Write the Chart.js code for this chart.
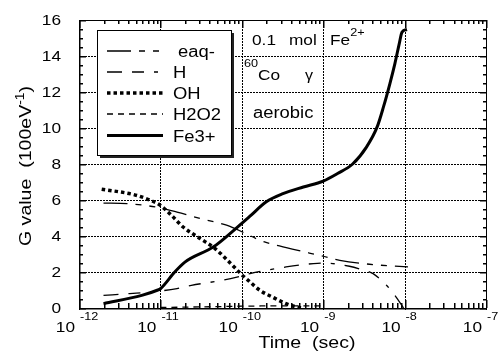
<!DOCTYPE html>
<html>
<head>
<meta charset="utf-8">
<script src="https://cdn.jsdelivr.net/npm/chart.js@4"></script>
<style>
  html, body { margin: 0; padding: 0; background: #fff; }
  canvas { display: block; }
</style>
</head>
<body>
<canvas id="gChart" width="502" height="356"></canvas>
<script>
// series names (legend order)
const seriesNames = ['eaq-', 'H', 'OH', 'H2O2', 'Fe3+'];

// time (sec) / G value (100eV^-1)
const tEaq = [2e-12, 3.9e-12, 9e-12, 1.6e-11, 3.1e-11, 6.5e-11, 1.9e-10, 2.9e-10, 4.9e-10, 9.5e-10, 1.6e-9, 3.7e-9, 1.1e-8];
const gEaq = [5.83, 5.8, 5.6, 5.33, 4.97, 4.6, 3.67, 3.45, 3.2, 2.9, 2.65, 2.43, 2.28];

const tH = [2e-12, 4.2e-12, 7.8e-12, 1.6e-11, 2.4e-11, 5.1e-11, 8.7e-11, 1.26e-10, 1.8e-10, 3.5e-10, 7.6e-10, 1e-9, 2.1e-9, 3e-9, 4.1e-9, 6e-9, 7.6e-9, 9.7e-9];
const gH = [0.7, 0.8, 0.89, 1.08, 1.26, 1.5, 1.72, 1.91, 2.06, 2.28, 2.47, 2.5, 2.32, 2.13, 1.91, 1.26, 0.7, 0.0];

const tOH = [1.9e-12, 4.7e-12, 7.4e-12, 1e-11, 1.4e-11, 1.9e-11, 3.1e-11, 4.7e-11, 7.2e-11, 1e-10, 1.26e-10, 1.67e-10, 2.4e-10, 3.5e-10, 4.7e-10, 5.7e-10];
const gOH = [6.6, 6.3, 6.0, 5.7, 5.1, 4.5, 3.85, 3.3, 2.5, 1.85, 1.45, 0.98, 0.6, 0.24, 0.06, 0.0];

const tH2O2 = [1e-11, 3e-11, 1e-10, 3e-10, 1e-9];
const gH2O2 = [0.03, 0.06, 0.1, 0.12, 0.12];

const tFe = [2e-12, 5.9e-12, 9.3e-12, 1e-11, 1.5e-11, 2e-11, 4.5e-11, 7.9e-11, 1.26e-10, 2e-10, 3.2e-10, 5.7e-10, 1e-9, 1.5e-9, 2.3e-9, 3.4e-9, 4.6e-9, 5.5e-9, 6.6e-9, 7.6e-9, 8.6e-9, 9.3e-9, 1.07e-8];
const gFe = [0.24, 0.7, 1.0, 1.07, 2.0, 2.55, 3.4, 4.3, 5.1, 5.9, 6.35, 6.72, 7.05, 7.47, 8.0, 8.94, 10.06, 11.17, 12.47, 13.58, 14.69, 15.33, 15.47];

// axis ticks
const decadeTicks = [1e-12, 1e-11, 1e-10, 1e-9, 1e-8, 1e-7];
const decadeExps = ['-12', '-11', '-10', '-9', '-8', '-7'];
const gTicks = [0, 2, 4, 6, 8, 10, 12, 14, 16];
const gMinor = 0.5;

const FONT = '"Liberation Sans", Arial, Helvetica, sans-serif';
const SX = 1.15; // the scanned lettering is a bit wide

const toPts = (ts, gs) => ts.map((t, i) => ({ x: t, y: gs[i] }));

// draw a run of [text, size, rise] pieces; returns width
function richText(ctx, parts, x, y, align) {
    let total = 0;
    parts.forEach(p => { ctx.font = p[1] + 'px ' + FONT; total += ctx.measureText(p[0]).width * SX; });
    let cx = x;
    if (align === 'center') cx = x - total / 2;
    if (align === 'right') cx = x - total;
    parts.forEach(p => {
        ctx.save();
        ctx.font = p[1] + 'px ' + FONT;
        ctx.translate(cx, y - (p[2] || 0));
        ctx.scale(SX, 1);
        ctx.textAlign = 'left';
        ctx.textBaseline = 'alphabetic';
        ctx.fillStyle = '#000';
        ctx.fillText(p[0], 0, 0);
        cx += ctx.measureText(p[0]).width * SX;
        ctx.restore();
    });
    return total;
}

const decorPlugin = {
    id: 'decor',
    beforeDatasetsDraw(chart) {
        // dotted grid at the major ticks, under the curves
        const ctx = chart.ctx;
        const a = chart.chartArea;
        const xs = chart.scales.x, ys = chart.scales.y;
        const l = Math.round(a.left), r = Math.round(a.right);
        const t = Math.round(a.top), b = Math.round(a.bottom);
        ctx.save();
        ctx.fillStyle = '#000';
        decadeTicks.forEach(d => {
            const px = Math.round(xs.getPixelForValue(d));
            for (let y = t; y <= b; y += 3) ctx.fillRect(px, y, 1, 2);
        });
        gTicks.forEach(v => {
            const py = Math.round(ys.getPixelForValue(v));
            for (let x = l; x <= r; x += 3) ctx.fillRect(x, py, 2, 1);
        });
        ctx.restore();
    },
    afterDraw(chart) {
        const ctx = chart.ctx;
        const a = chart.chartArea;
        const xs = chart.scales.x, ys = chart.scales.y;
        const l = Math.round(a.left), r = Math.round(a.right);
        const t = Math.round(a.top), b = Math.round(a.bottom);

        ctx.save();
        ctx.fillStyle = '#000';
        // frame
        ctx.fillRect(l, t, r - l + 1, 1);
        ctx.fillRect(l, b, r - l + 1, 1.5);
        ctx.fillRect(l, t, 1.5, b - t + 1);
        ctx.fillRect(r, t, 1, b - t + 1);

        // x ticks (decades + 2..9 minors), bottom and top, pointing inward
        decadeTicks.forEach((d, i) => {
            const px = Math.round(xs.getPixelForValue(d));
            ctx.fillRect(px, b - 8, 1.5, 8);
            ctx.fillRect(px, t, 1.5, 8);
            if (i < decadeTicks.length - 1) {
                for (let k = 2; k <= 9; k++) {
                    const mx = Math.round(xs.getPixelForValue(k * d));
                    ctx.fillRect(mx, b - 5, 1.5, 5);
                    ctx.fillRect(mx, t, 1.5, 4);
                }
            }
        });
        // y ticks, left and right
        for (let v = gTicks[0]; v <= gTicks[gTicks.length - 1] + 1e-9; v += gMinor) {
            const py = Math.round(ys.getPixelForValue(v));
            const len = (v % 2 === 0) ? 7 : 4;
            ctx.fillRect(l, py, len, 1.5);
            ctx.fillRect(r - len + 1, py, len, 1.5);
        }

        // tick labels
        gTicks.forEach(v => {
            richText(ctx, [[String(v), 15, 0]], l - 18, ys.getPixelForValue(v) + 5, 'right');
        });
        decadeTicks.forEach((d, i) => {
            const px = xs.getPixelForValue(d);
            richText(ctx, [['10', 15, 0]], px - 4, 332, 'right');
            richText(ctx, [[decadeExps[i], 11, 0]], px + 1, 320, 'left');
        });

        // axis titles
        richText(ctx, [['Time  (sec)', 17, 0]], 307, 348, 'center');
        ctx.save();
        ctx.translate(31, 166);
        ctx.rotate(-Math.PI / 2);
        richText(ctx, [['G value  (100eV', 17, 0], ['-1', 12, 7], [')', 17, 0]], 0, 0, 'center');
        ctx.restore();

        // annotations
        richText(ctx, [['0.1', 15, 0]], 252, 45, 'left');
        richText(ctx, [['mol', 15, 0]], 289, 45, 'left');
        richText(ctx, [['Fe', 15, 0], ['2+', 11, 9]], 330, 45, 'left');
        richText(ctx, [['60', 11, 13], ['Co', 15, 0]], 244, 80, 'left');
        richText(ctx, [['\u03b3', 14, 0]], 305, 80, 'left');
        richText(ctx, [['aerobic', 16, 0]], 253, 118, 'left');

        // legend box with drop shadow
        const bx = 97, by = 30, bw = 134, bh = 125;
        ctx.fillStyle = '#fff';
        ctx.fillRect(bx, by, bw, bh);
        ctx.fillStyle = '#222';
        ctx.fillRect(bx + 3, by + bh, bw, 3);
        ctx.fillRect(bx + bw, by + 3, 3, bh);
        ctx.strokeStyle = '#000';
        ctx.lineWidth = 1;
        ctx.strokeRect(bx + 0.5, by + 0.5, bw, bh);

        const baseLines = [57, 78, 99, 120, 141.5];
        chart.data.datasets.forEach((ds, i) => {
            const ly = baseLines[i] - 6;
            ctx.save();
            ctx.strokeStyle = ds.borderColor;
            ctx.lineWidth = ds.borderWidth;
            ctx.setLineDash(ds.borderDash || []);
            ctx.beginPath();
            ctx.moveTo(107, ly);
            ctx.lineTo(163, ly);
            ctx.stroke();
            ctx.restore();
            richText(ctx, [[ds.label, 16, 0]], i === 0 ? 178 : 173, baseLines[i], 'left');
        });
        ctx.restore();
    }
};

const seriesData = [toPts(tEaq, gEaq), toPts(tH, gH), toPts(tOH, gOH), toPts(tH2O2, gH2O2), toPts(tFe, gFe)];
const seriesDash = [[24, 8, 6, 8, 6, 8], [15, 10, 12, 10, 4, 10], [3.5, 3], [6, 5], []];
const seriesWidth = [1.3, 1.3, 3.5, 1.3, 3];

new Chart(document.getElementById('gChart').getContext('2d'), {
    type: 'line',
    data: {
        datasets: seriesNames.map((name, i) => ({
            label: name,
            data: seriesData[i],
            borderColor: '#000',
            backgroundColor: '#000',
            borderWidth: seriesWidth[i],
            borderDash: seriesDash[i],
            pointRadius: 0,
            cubicInterpolationMode: 'monotone',
            fill: false
        }))
    },
    options: {
        responsive: false,
        animation: false,
        layout: { padding: { left: 79, right: 16, top: 20, bottom: 48 } },
        plugins: { legend: { display: false }, tooltip: { enabled: false } },
        scales: {
            x: {
                type: 'logarithmic',
                min: 1e-12,
                max: 1e-7,
                ticks: { display: false },
                grid: { display: false, drawTicks: false },
                border: { display: false }
            },
            y: {
                type: 'linear',
                min: 0,
                max: 16,
                ticks: { display: false },
                grid: { display: false, drawTicks: false },
                border: { display: false }
            }
        }
    },
    plugins: [decorPlugin]
});
</script>
</body>
</html>
